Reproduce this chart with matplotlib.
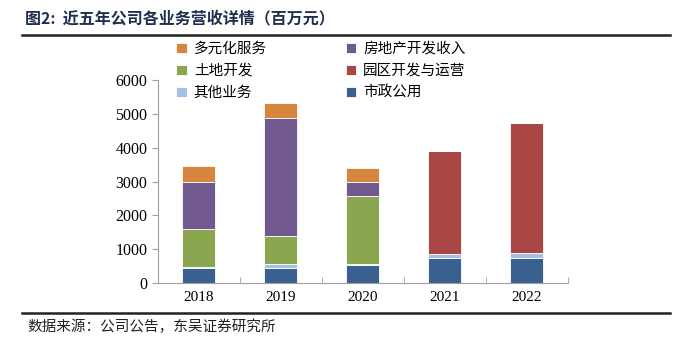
import matplotlib.pyplot as plt
import numpy as np

years = ['2018', '2019', '2020', '2021', '2022']
municipal = [453, 443, 542, 739, 749]
other = [10, 110, 12, 118, 128]
land = [1143, 826, 2008, 0, 0]
estate = [1380, 3508, 423, 0, 0]
park = [0, 0, 0, 3054, 3862]
diverse = [472, 423, 424, 0, 0]

series = [
    ('市政公用', municipal, '#3A6090'),
    ('其他业务', other, '#A7BFE0'),
    ('土地开发', land, '#8AA64F'),
    ('房地产开发收入', estate, '#71588F'),
    ('园区开发与运营', park, '#A94744'),
    ('多元化服务', diverse, '#D6853D'),
]

cjk = ['Noto Sans CJK SC', 'DejaVu Sans']
num = ['Liberation Serif', 'Noto Sans CJK SC']

fig = plt.figure(figsize=(6.8, 3.53), dpi=100)
ax = fig.add_axes([0.232, 0.198, 0.603, 0.575])

x = np.arange(len(years))
bottom = np.zeros(len(years))
bars = {}
for name, vals, col in series:
    vals = np.array(vals, dtype=float)
    bars[name] = ax.bar(x, vals, 0.4, bottom=bottom, color=col,
                        edgecolor='white', linewidth=0.6, label=name)
    bottom += vals

ax.set_xlim(-0.5, 4.5)
ax.set_ylim(0, 6000)
ax.set_yticks(range(0, 6001, 1000))
ax.set_xticks(x)
ax.set_xticklabels(years, family=num, fontsize=11)
ax.set_xticks(np.arange(-0.5, 5, 1), minor=True)
ax.tick_params(axis='x', which='major', length=0, pad=6)
ax.tick_params(axis='x', which='minor', direction='in', length=4, color='#A0A0A0')
ax.tick_params(axis='y', direction='out', length=4, color='#A0A0A0', labelsize=11.5)
for lab in ax.get_yticklabels():
    lab.set_family(num)
for s in ['top', 'right']:
    ax.spines[s].set_visible(False)
for s in ['left', 'bottom']:
    ax.spines[s].set_color('#A0A0A0')

order = ['多元化服务', '土地开发', '其他业务', '房地产开发收入', '园区开发与运营', '市政公用']
leg = fig.legend([bars[n] for n in order], order, ncol=2, loc='upper left',
                 bbox_to_anchor=(0.240, 0.919), frameon=False,
                 prop={'family': cjk, 'size': 10.5}, handlelength=0.7,
                 handleheight=0.7, handletextpad=0.5, columnspacing=5.4,
                 labelspacing=0.55)

fig.text(0.037, 0.948, '图2:  近五年公司各业务营收详情（百万元）', family=cjk,
         fontsize=11.5, fontweight='bold', color='#1F2F4F', va='center')
fig.add_artist(plt.Line2D([0.032, 0.985], [0.902, 0.902], color='#222222', lw=1.8))
fig.add_artist(plt.Line2D([0.032, 0.985], [0.114, 0.114], color='#222222', lw=1.8))
fig.text(0.04, 0.074, '数据来源：公司公告，东吴证券研究所', family=cjk,
         fontsize=10.5, color='#222222', va='center')

fig.savefig('out.png', dpi=100)
